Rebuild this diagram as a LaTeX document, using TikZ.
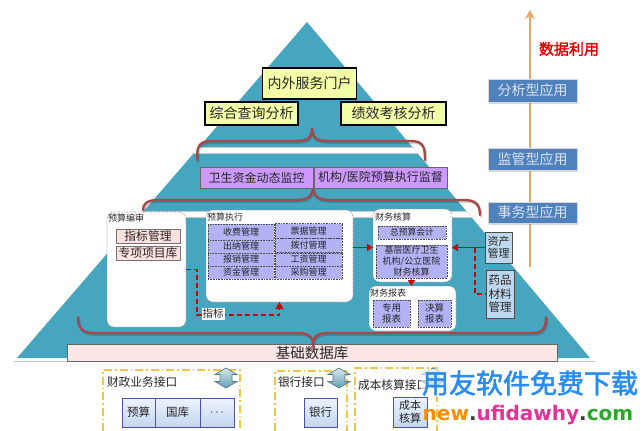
\documentclass[tikz,border=0pt]{standalone}
\usepackage{fontspec}
\setmainfont{Noto Sans CJK SC}
\newfontfamily\cjkbold{Noto Sans CJK SC}[FakeBold=2]
\newfontfamily\urlfont{DejaVu Sans}
\usetikzlibrary{arrows.meta,shadows}
\definecolor{pyr}{RGB}{70,166,192}
\definecolor{ygreen}{RGB}{242,255,166}
\definecolor{purp}{RGB}{204,153,255}
\definecolor{lav}{RGB}{178,178,245}
\definecolor{pinkb}{RGB}{253,225,222}
\definecolor{braceC}{RGB}{165,72,72}
\definecolor{redA}{RGB}{200,0,0}
\definecolor{ltblue}{RGB}{189,215,238}
\definecolor{appblue}{RGB}{79,129,189}
\definecolor{apptext}{RGB}{218,228,242}
\definecolor{orangeA}{RGB}{240,165,100}
\definecolor{barpink}{RGB}{253,230,230}
\definecolor{ydash}{RGB}{245,195,70}
\definecolor{boxtop}{RGB}{236,243,252}
\definecolor{boxbot}{RGB}{196,214,240}
\definecolor{boxline}{RGB}{80,80,170}
\definecolor{arrtop}{RGB}{215,232,238}
\definecolor{arrbot}{RGB}{95,160,178}
\definecolor{arrline}{RGB}{90,120,130}
\definecolor{wmblue}{RGB}{40,140,240}
\definecolor{wmorange}{RGB}{255,140,0}
\definecolor{wmpink}{RGB}{230,50,150}
\definecolor{wmgreen}{RGB}{40,170,40}
\definecolor{wmgray}{RGB}{60,60,60}
\begin{document}
\begin{tikzpicture}[x=1pt,y=-1pt,
  every node/.style={inner sep=0pt, outer sep=0pt, text=black!85},
  ybox/.style={draw=black, line width=1.3pt, fill=ygreen, font=\fontsize{14}{16}\selectfont},
  pbox/.style={draw=black!60, line width=0.6pt, fill=purp, font=\fontsize{12}{14}\selectfont, minimum height=21},
  wbox/.style={draw=black!50, densely dotted, line width=0.6pt, fill=white, rounded corners=7pt},
  grplbl/.style={anchor=west, font=\fontsize{9}{10}\selectfont},
  pinkbox/.style={draw=black!55, line width=0.8pt, fill=pinkb, font=\fontsize{11.8}{13}\selectfont, minimum width=64, minimum height=14},
  cell/.style={draw=black!70, densely dotted, line width=0.6pt, fill=lav, font=\fontsize{9}{10}\selectfont},
  lcell/.style={cell, minimum width=66},
  rcell/.style={cell, minimum width=67},
  sidebox/.style={draw=black!70, line width=0.8pt, fill=ltblue, align=center},
  appbox/.style={draw=black!15, line width=1pt, fill=appblue, text=apptext, font=\fontsize{14}{16}\selectfont, minimum width=89, drop shadow={opacity=0.3, shadow xshift=1pt, shadow yshift=-1.5pt}},
  brace/.style={draw=braceC, line width=2.4pt, line cap=round},
  braceshadow/.style={draw=black, opacity=0.18, line width=2.6pt, line cap=round, shift={(1,1.5)}},
  redarrow/.style={draw=redA, line width=1.6pt, -{Triangle[length=6pt,width=7pt]}},
  reddash/.style={draw=redA, line width=1.4pt, dash pattern=on 5pt off 3pt},
  iface/.style={draw=ydash, line width=1.4pt, dash pattern=on 8pt off 3pt on 1.5pt off 3pt},
  ibox/.style={draw=boxline, line width=0.8pt, top color=boxtop, bottom color=boxbot, font=\fontsize{11.5}{13.5}\selectfont, align=center},
  iflbl/.style={anchor=west, font=\fontsize{11.7}{13}\selectfont},
  dblarrow/.pic={\draw[draw=arrline, line width=0.7pt, top color=arrtop, bottom color=arrbot]
     (0,-10) -- (11,-3.5) -- (6,-3.5) -- (6,3.5) -- (11,3.5) -- (0,10) -- (-11,3.5) -- (-6,3.5) -- (-6,-3.5) -- (-11,-3.5) -- cycle;}
]
\useasboundingbox[fill=white] (0,0) rectangle (643,431);

% pyramid
\fill[pyr] (307,22) -- (17,358) -- (590,358) -- cycle;
\begin{scope}
  \clip (307,22) -- (17,358) -- (590,358) -- cycle;
  \fill[white] (0,147) rectangle (643,153);
  \fill[white] (0,211) rectangle (643,217);
  \draw[black!20, line width=0.5pt] (0,147) -- (643,147) (0,153) -- (643,153) (0,211) -- (643,211) (0,217) -- (643,217);
\end{scope}
\draw[white, line width=1.5pt] (15,359.5) -- (592,359.5);
\draw[black!25, line width=0.6pt] (14,361.5) -- (595,361.5);

% braces (upper two)
\foreach \st in {braceshadow, brace} {
  \draw[\st] (197,160) .. controls (197,146) and (199,141) .. (212,141) -- (296,141) .. controls (309,141) and (312,137) .. (312,128) .. controls (312,137) and (315,141) .. (328,141) -- (410,141) .. controls (423,141) and (425,146) .. (425,160);
  \draw[\st] (143,210) .. controls (143,204) and (147,200) .. (158,200) -- (297,200) .. controls (309,200) and (313,195) .. (313,187) .. controls (313,195) and (317,200) .. (329,200) -- (464,200) .. controls (476,200) and (480,205) .. (480,215);
}

% top level
\node[ybox, minimum width=94, minimum height=31] (portal) at (309.5,83.5) {内外服务门户};
\node[ybox, minimum width=93, minimum height=23] (zonghe) at (251.5,113.5) {综合查询分析};
\node[ybox, minimum width=105, minimum height=23] (jixiao) at (393.5,113.5) {绩效考核分析};

% middle level
\node[pbox, minimum width=113] (jiankong) at (256.5,177.5) {卫生资金动态监控};
\node[pbox, minimum width=133] (jiandu) at (380.5,177.5) {机构/医院预算执行监督};

% lower level groups
\node[wbox, minimum width=79, minimum height=115] (bianshen) at (146.5,269.5) {};
\node[grplbl] (bianshenL) at (108,218) {预算编审};
\node[pinkbox] (zhibiao) at (148,236) {指标管理};
\node[pinkbox] (zhuanxiang) at (148,253) {专项项目库};

\node[wbox, minimum width=147, minimum height=92] (zhixing) at (279.5,256) {};
\node[grplbl] (zhixingL) at (207,217) {预算执行};
\node[lcell, minimum height=16] (c1) at (241,232) {收费管理};
\node[lcell, minimum height=13] (c2) at (241,246.5) {出纳管理};
\node[lcell, minimum height=13] (c3) at (241,259.5) {报销管理};
\node[lcell, minimum height=13] (c4) at (241,272.5) {资金管理};
\node[rcell, minimum height=15] (c5) at (308.5,231) {票据管理};
\node[rcell, minimum height=14] (c6) at (308.5,245.5) {拨付管理};
\node[rcell, minimum height=13] (c7) at (308.5,259.5) {工资管理};
\node[rcell, minimum height=13] (c8) at (308.5,272.5) {采购管理};

\node[wbox, minimum width=79, minimum height=73] (hesuan) at (412.5,245.5) {};
\node[grplbl] (hesuanL) at (375,217) {财务核算};
\node[cell, minimum width=68, minimum height=13, font=\fontsize{8.8}{10}\selectfont] (zongyusuan) at (412,232.5) {总预算会计};
\node[cell, minimum width=71, minimum height=33, align=center, font=\fontsize{9}{11}\selectfont] (jiceng) at (411.5,261.5) {基层医疗卫生\\机构/公立医院\\财务核算};

\node[wbox, minimum width=87, minimum height=45] (baobiao) at (412.5,308.5) {};
\node[grplbl] (baobiaoL) at (370,293) {财务报表};
\node[cell, minimum width=37, minimum height=27, align=center, font=\fontsize{9.5}{11}\selectfont] (zhuanyong) at (391.5,313.5) {专用\\报表};
\node[cell, minimum width=33, minimum height=27, align=center, font=\fontsize{9.5}{11}\selectfont] (juesuan) at (434.5,313.5) {决算\\报表};

\node[sidebox, minimum width=27, minimum height=31, font=\fontsize{11}{12.5}\selectfont] (zichan) at (498.5,247.5) {资产\\管理};
\node[sidebox, minimum width=28, minimum height=48, font=\fontsize{11.5}{13.5}\selectfont] (yaopin) at (500,294) {药品\\材料\\管理};

% connectors
\draw[redarrow] (zhixing.east |- zichan.west) -- (hesuan.west |- zichan.west);
\draw[redarrow] (zichan.west) -- (hesuan.east |- zichan.west);
\coordinate (zc1) at (475,247.5);
\draw[reddash] (zc1) |- (yaopin.west);
\draw[redarrow, line width=1.4pt] (jiceng.south) -- (jiceng.south |- baobiao.north);
\coordinate (zb1) at (197,315);
\draw[reddash, -{Triangle[length=7pt,width=8pt]}] (bianshen.east) -| (zb1) -| (zhixing.south);
\node[fill=white, inner sep=1pt, font=\fontsize{10.5}{12}\selectfont] (zhibiaoL) at (213,314) {指标};

% base database
\node[draw=black!60, line width=0.8pt, fill=barpink, minimum width=490, minimum height=17, font=\fontsize{14.5}{16}\selectfont] (jichu) at (312,353) {基础数据库};
\foreach \st in {braceshadow, brace} {
  \draw[\st] (78,317) .. controls (78,328) and (82,333) .. (94,333) -- (297,333) .. controls (309,333) and (313,337) .. (313,344) .. controls (313,337) and (317,333) .. (329,333) -- (532,333) .. controls (543,333) and (546,328) .. (546,317);
}

% right column
\coordinate (oa1) at (530,267);
\coordinate (oa2) at (530,10);
\draw[orangeA, line width=2.6pt, -{Stealth[length=9pt,width=10pt,inset=3pt]}] (oa1) -- (oa2);
\node[text=red!90!black, font=\fontsize{15}{17}\selectfont\cjkbold] (shuju) at (569,49) {数据利用};
\node[appbox, minimum height=23] (fenxi) at (532.5,90.5) {\raisebox{-2pt}{分析型应用}};
\node[appbox, minimum height=22] (jianguan) at (532.5,159) {\raisebox{-2pt}{监管型应用}};
\node[appbox, minimum height=21] (shiwu) at (532.5,212.5) {\raisebox{-2pt}{事务型应用}};

% bottom interfaces
\draw[iface] (103,431) -- (103,370) -- (240,370) -- (240,431);
\draw[iface] (275,431) -- (275,371) -- (347,371) -- (347,431);
\draw[iface] (355,431) -- (355,368) -- (437,368) -- (437,431);
\node[iflbl] (czL) at (107,382) {财政业务接口};
\node[iflbl] (yhL) at (278,382) {银行接口};
\node[iflbl] (cbL) at (358,385) {成本核算接口};
\node[ibox, minimum width=33, minimum height=29] (yusuan) at (138.5,412.5) {预算};
\node[ibox, minimum width=45, minimum height=29] (guoku) at (177.5,412.5) {国库};
\node[ibox, minimum width=34, minimum height=29] (dots) at (217,412.5) {$\cdots$};
\node[ibox, minimum width=33, minimum height=29] (yinhang) at (320.5,412.5) {银行};
\node[ibox, minimum width=34, minimum height=30, font=\fontsize{11}{12.5}\selectfont] (chengben) at (410,412) {成本\\核算};
\pic at (226,378) {dblarrow};
\pic at (339,378) {dblarrow};
\pic at (433,378) {dblarrow};

% watermark
\node[fill=white, fill opacity=0.6, text opacity=1, inner sep=1pt, text=wmblue, font=\fontsize{27}{30}\selectfont\cjkbold] (wm1) at (530,383) {用友软件免费下载};
\node[font=\fontsize{20}{22}\selectfont\urlfont\bfseries, anchor=base] (wm2) at (528,420) {\textcolor{wmorange}{new}\textcolor{wmgray}{.}\textcolor{wmpink}{ufidawhy}\textcolor{wmgray}{.}\textcolor{wmgreen}{com}};
\end{tikzpicture}
\end{document}
